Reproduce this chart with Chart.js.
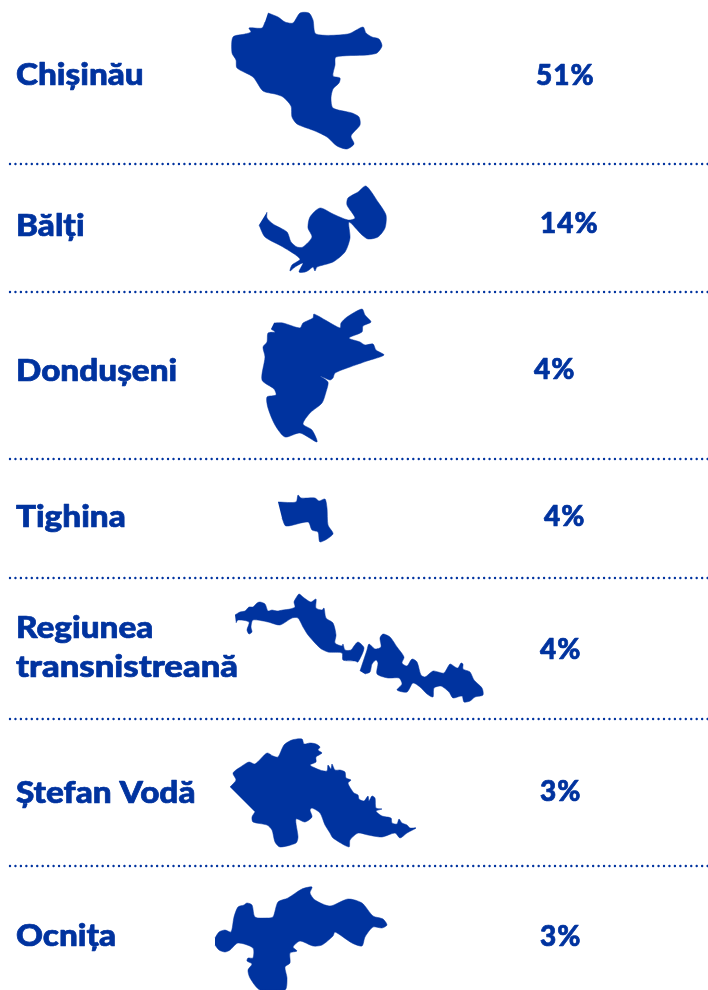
<!DOCTYPE html>
<html>
<head>
<meta charset="utf-8">
<script src="https://cdn.jsdelivr.net/npm/chart.js@4/dist/chart.umd.min.js"></script>
<style>
  html, body { margin: 0; padding: 0; background: #fff; }
</style>
</head>
<body>
<canvas id="chartCanvas" width="708" height="990"></canvas>
<script>
// Regions and their shares
const regions = ["Chișinău", "Bălți", "Dondușeni", "Tighina", ["Regiunea", "transnistreană"], "Ștefan Vodă", "Ocnița"];
const shares = [51, 14, 4, 4, 4, 3, 3];

// Region outlines
const chisinauOutline = [[268,13],[278,17],[285,22],[293,23],[300,13],[309,13],[313,20],[316,34],[348,34],[363,27],[366,33],[372,37],[379,39],[382,46],[377,53],[367,55],[336,57],[335,65],[333,76],[340,78],[339,83],[333,89],[331,98],[333,108],[352,113],[359,117],[360,125],[351,136],[354,144],[347,149],[337,146],[327,137],[315,131],[297,124],[292,117],[291,106],[283,97],[275,94],[263,91],[253,77],[237,68],[236,60],[232,53],[233,37],[245,34],[251,32],[249,28],[262,28],[265,22]];
const baltiOutline = [[267,212],[267,218],[273,224],[287,232],[291,242],[297,247],[303,247],[312,237],[308,228],[310,217],[320,208],[333,214],[348,220],[355,218],[347,205],[348,198],[358,192],[366,186],[378,202],[386,215],[385,228],[378,237],[368,239],[362,235],[349,222],[350,238],[345,252],[333,262],[317,267],[315,271],[313,267],[309,270],[305,272],[299,272],[303,263],[295,267],[290,271],[292,265],[300,259],[283,247],[265,237],[259,225]];
const dondușeniOutline = [[274,323],[283,323],[300,328],[303,323],[313,318],[314,314],[340,328],[341,323],[347,317],[362,309],[365,315],[371,322],[363,326],[362,332],[349,338],[360,342],[365,345],[373,344],[376,350],[384,355],[367,361],[350,367],[335,373],[333,378],[330,380],[320,376],[328,382],[326,392],[322,403],[310,413],[303,424],[312,430],[317,442],[300,433],[285,437],[275,425],[268,408],[267,397],[276,395],[274,389],[262,380],[265,357],[263,347],[267,342],[268,333],[275,332],[271,329]];
const tighinaOutline = [[278,502],[296,502],[298,495],[301,498],[315,498],[319,501],[325,499],[327,508],[328,525],[333,534],[320,542],[318,532],[312,530],[308,522],[286,526],[282,518]];
const transnistriaWest = [[235,615],[240,612],[245,611],[249,607],[253,607],[257,603],[260,602],[265,604],[268,611],[272,610],[277,611],[283,610],[290,609],[295,607],[294,602],[296,598],[299,594],[303,597],[307,600],[311,602],[316,599],[316,608],[322,610],[324,608],[326,618],[333,623],[336,635],[335,643],[342,646],[343,644],[345,650],[351,650],[354,646],[358,642],[364,648],[358,662],[355,661],[343,660],[342,653],[328,652],[320,648],[308,635],[303,627],[298,618],[292,618],[280,625],[268,622],[253,620],[251,627],[252,632],[249,634],[247,630],[249,622],[238,620],[236,623]];
const transnistriaEast = [[360,671],[363,662],[367,650],[369,644],[375,649],[381,647],[380,638],[383,634],[390,637],[397,647],[404,657],[402,663],[407,666],[412,659],[417,662],[421,675],[425,677],[433,671],[438,672],[444,673],[450,664],[455,667],[458,668],[461,663],[463,664],[463,669],[470,672],[474,680],[482,688],[483,695],[475,697],[470,701],[464,702],[462,696],[453,698],[449,692],[441,686],[434,688],[433,697],[427,694],[420,687],[413,683],[407,692],[397,690],[402,684],[399,678],[388,678],[377,674],[378,663],[376,660],[372,664],[370,672],[365,674]];
const stefanVodaOutline = [[230,787],[236,780],[233,773],[242,766],[249,762],[255,764],[267,753],[273,756],[278,757],[284,745],[292,740],[302,739],[304,744],[310,743],[316,744],[320,747],[318,750],[322,753],[316,757],[316,762],[310,765],[320,770],[327,771],[328,765],[331,769],[332,764],[335,770],[340,770],[345,772],[346,778],[351,780],[348,783],[351,789],[354,793],[358,795],[359,799],[364,801],[368,796],[369,801],[372,796],[375,798],[376,808],[382,809],[376,811],[382,816],[391,818],[392,823],[397,824],[399,819],[402,823],[407,825],[410,828],[416,828],[407,833],[400,838],[395,833],[382,837],[368,835],[358,833],[350,840],[349,847],[333,838],[330,833],[325,825],[320,813],[312,808],[310,810],[312,817],[305,822],[296,819],[298,837],[296,843],[280,847],[275,842],[272,830],[267,825],[253,822],[252,817],[255,812]];
const ocnitaOutline = [[215,938],[219,932],[225,930],[231,932],[234,917],[238,907],[244,905],[247,903],[252,905],[255,917],[267,918],[273,917],[278,902],[288,898],[302,889],[312,887],[310,893],[315,900],[330,906],[348,899],[362,903],[373,916],[383,919],[387,925],[382,928],[373,927],[365,937],[362,946],[352,943],[335,932],[333,936],[322,945],[313,946],[300,941],[293,947],[297,951],[290,953],[290,963],[285,967],[287,978],[285,990],[260,990],[250,978],[248,970],[252,964],[247,961],[248,958],[253,958],[253,948],[238,943],[230,950],[225,952],[219,950],[215,945]];

const outlines = [chisinauOutline, baltiOutline, dondușeniOutline, tighinaOutline, transnistriaWest, transnistriaEast, stefanVodaOutline, ocnitaOutline];

// Layout in page pixels (the axes run 0-708 and 0-990)
const dividerRows = [164, 292, 459, 578, 719, 866];
const nameBaselines = [85, 236, 381, 527, [638, 677], 803, 946];
const shareLefts = [536, 540, 534, 544, 540, 540, 540];
const shareBaselines = [85, 233, 379, 526, 659, 801, 946];

const blue = "#00339f";

// Names and percentages, placed through the scales
const textPlugin = {
    id: "rowText",
    afterDatasetsDraw(chart) {
        const { ctx, scales: { x, y } } = chart;
        ctx.save();
        ctx.fillStyle = blue;
        ctx.strokeStyle = blue;
        ctx.lineWidth = 0.7;
        ctx.lineJoin = "round";
        ctx.textBaseline = "alphabetic";
        ctx.textAlign = "left";

        // Lato is narrower than the original face, so the names get stretched
        ctx.font = "900 30px Lato";
        regions.forEach((name, i) => {
            const lines = Array.isArray(name) ? name : [name];
            const rows = Array.isArray(nameBaselines[i]) ? nameBaselines[i] : [nameBaselines[i]];
            lines.forEach((line, j) => {
                ctx.save();
                ctx.translate(x.getPixelForValue(16), y.getPixelForValue(rows[j]));
                ctx.scale(line === "transnistreană" ? 1.155 : 1.11, 1);
                ctx.fillText(line, 0, 0);
                ctx.strokeText(line, 0, 0);
                ctx.restore();
            });
        });

        ctx.font = "900 28px Lato";
        ctx.letterSpacing = "1px";
        shares.forEach((value, i) => {
            const label = value + "%";
            const px = x.getPixelForValue(shareLefts[i]);
            const py = y.getPixelForValue(shareBaselines[i]);
            ctx.fillText(label, px, py);
            ctx.strokeText(label, px, py);
        });
        ctx.restore();
    }
};

const shapeSets = outlines.map(outline => ({
    data: outline,
    showLine: true,
    fill: "shape",
    backgroundColor: blue,
    borderColor: blue,
    borderWidth: 0.5,
    tension: 0.25,
    pointRadius: 0,
    clip: false
}));

const dividerSets = dividerRows.map(row => ({
    data: [[10, row], [708, row]],
    showLine: true,
    fill: false,
    borderColor: blue,
    borderWidth: 2.4,
    borderDash: [0, 5.45],
    borderCapStyle: "round",
    pointRadius: 0,
    clip: false
}));

new Chart(document.getElementById("chartCanvas").getContext("2d"), {
    type: "scatter",
    data: { datasets: [...shapeSets, ...dividerSets] },
    options: {
        responsive: false,
        animation: false,
        events: [],
        layout: { padding: 0 },
        plugins: {
            legend: { display: false },
            tooltip: { enabled: false }
        },
        scales: {
            x: { type: "linear", min: 0, max: 708, display: false },
            y: { type: "linear", min: 0, max: 990, reverse: true, display: false }
        }
    },
    plugins: [textPlugin]
});
</script>
</body>
</html>
